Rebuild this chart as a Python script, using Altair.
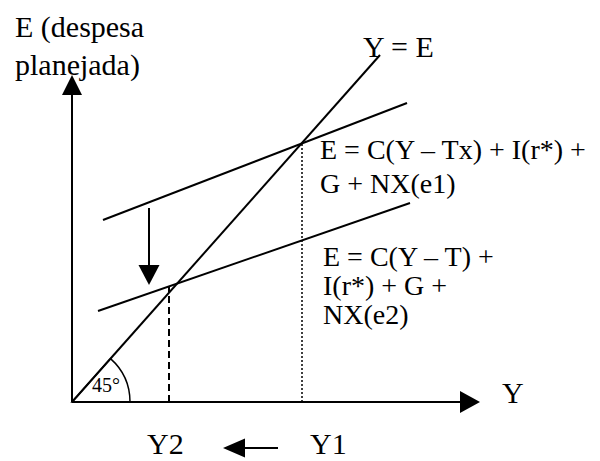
import altair as alt
import pandas as pd
import math

# Coordinate system: origin of the diagram at (0, 0); Y to the right, E upward.
# Solid segments: 45-degree line, two expenditure lines, axes shafts, arrow shafts
seg_names = ["Y=E", "E1", "E2", "axisE", "axisY", "shift", "moveY"]
seg_x1 = [0, 31, 26, 0, 0, 77, 173]
seg_y1 = [0, 182, 91, 0, 0, 194, -46]
seg_x2 = [308, 335, 338, 0, 388, 77, 206]
seg_y2 = [347, 299, 199, 307, 0, 136, -46]

# Equilibrium incomes and matching expenditure levels
eq_names = ["Y2", "Y1"]
eq_x = [97, 230]
eq_y = [115, 259]

# Arrow heads (position of head centre) and direction
head_x = [0, 398, 77, 162]
head_y = [317, 0, 127, -46]
head_dir = ["up", "right", "down", "left"]

# Labels
big_text = ["Y = E", "Y", "Y2", "Y1"]
big_x = [291, 430, 75, 238]
big_y = [345, -1, -52, -52]

title_text = ["E (despesa", "planejada)"]
title_x = [-57, -57]
title_y = [365, 327]

mid_text = ["E = C(Y \u2013 Tx) + I(r*) +", "G + NX(e1)",
            "E = C(Y \u2013 T) +", "I(r*) + G +", "NX(e2)"]
mid_x = [248, 248, 251, 251, 251]
mid_y = [243, 209, 136, 107, 78]

angle_text = ["45\u00b0"]
angle_x = [20]
angle_y = [10]

XS = alt.Scale(domain=[-64, 520])
YS = alt.Scale(domain=[-59, 394])

def X(f="x"):
    return alt.X(f"{f}:Q", scale=XS, axis=None)

def Y(f="y"):
    return alt.Y(f"{f}:Q", scale=YS, axis=None)

segs = pd.DataFrame({"name": seg_names, "x": seg_x1, "y": seg_y1, "x2": seg_x2, "y2": seg_y2})
solid = alt.Chart(segs).mark_rule(color="black", strokeWidth=2).encode(
    x=X(), y=Y(), x2="x2:Q", y2="y2:Q")

eq = pd.DataFrame({"name": eq_names, "x": eq_x, "y": eq_y, "y0": [0, 0]})
dashed = alt.Chart(eq[eq["name"] == "Y2"]).mark_rule(
    color="black", strokeWidth=2, strokeDash=[7, 4]).encode(x=X(), y=Y("y0"), y2="y:Q")
dotted = alt.Chart(eq[eq["name"] == "Y1"]).mark_rule(
    color="black", strokeWidth=1.5, strokeDash=[2, 2]).encode(x=X(), y=Y("y0"), y2="y:Q")

paths = {
    "up": "M0,-1L1,1L-1,1Z",
    "right": "M1,0L-1,-1.1L-1,1.1Z",
    "down": "M0,1L-1.05,-1L1.05,-1Z",
    "left": "M-1,0L1,-0.86L1,0.86Z",
}
heads = pd.DataFrame({"x": head_x, "y": head_y, "dir": head_dir})
head_layers = []
for d, size in [("up", 400), ("right", 400), ("down", 400), ("left", 484)]:
    head_layers.append(
        alt.Chart(heads[heads["dir"] == d]).mark_point(
            shape=paths[d], filled=True, color="black", opacity=1, size=size, strokeWidth=0
        ).encode(x=X(), y=Y())
    )

origin = pd.DataFrame({"x": [0], "y": [0]})
arc = alt.Chart(origin).mark_arc(
    filled=False, stroke="black", strokeWidth=1.5,
    theta=0.726, theta2=math.pi / 2, radius=58, innerRadius=0
).encode(x=X(), y=Y())

font = "Liberation Serif"
big = alt.Chart(pd.DataFrame({"t": big_text, "x": big_x, "y": big_y})).mark_text(
    font=font, fontSize=30, align="left", baseline="alphabetic", color="black"
).encode(x=X(), y=Y(), text="t:N")
title = alt.Chart(pd.DataFrame({"t": title_text, "x": title_x, "y": title_y})).mark_text(
    font=font, fontSize=30, align="left", baseline="alphabetic", color="black"
).encode(x=X(), y=Y(), text="t:N")
mid = alt.Chart(pd.DataFrame({"t": mid_text, "x": mid_x, "y": mid_y})).mark_text(
    font=font, fontSize=28, align="left", baseline="alphabetic", color="black"
).encode(x=X(), y=Y(), text="t:N")
small = alt.Chart(pd.DataFrame({"t": angle_text, "x": angle_x, "y": angle_y})).mark_text(
    font=font, fontSize=20, align="left", baseline="alphabetic", color="black"
).encode(x=X(), y=Y(), text="t:N")

chart = alt.layer(solid, dashed, dotted, arc, *head_layers, big, title, mid, small).properties(
    width=584, height=453, padding=0, autosize=alt.AutoSizeParams(type="none"),
    background="white"
).configure_view(stroke=None)

chart.save("out.html", embed_options={"renderer": "svg", "actions": False})
